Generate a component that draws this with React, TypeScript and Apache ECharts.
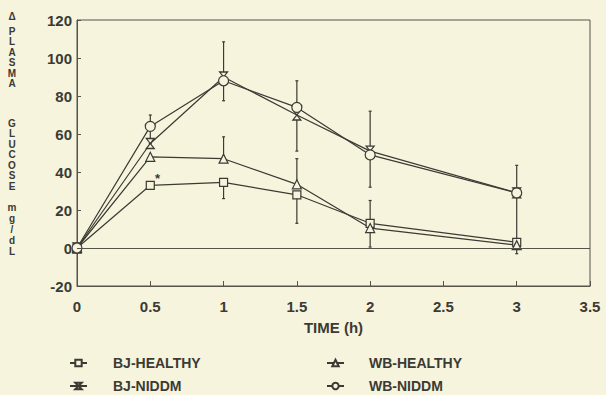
import React, { useEffect, useRef } from "react";
import * as echarts from "echarts";

const times = [0, 0.5, 1, 1.5, 2, 3];
const bjHealthy = [0, 33, 34.5, 28, 13, 3];
const bjNiddm = [0, 55, 90, 70, 51, 29];
const wbHealthy = [0, 48, 47, 33.5, 10.5, 1.5];
const wbNiddm = [0, 64, 88, 74, 49, 29];

// [time, low, high]
const errorBars = [
  [0.5, 55, 70],
  [0.5, 31, 33],
  [1, 77.5, 108.5],
  [1, 47, 58.5],
  [1, 26, 34.5],
  [1.5, 51, 88],
  [1.5, 33.5, 47],
  [1.5, 13, 28],
  [2, 32, 72],
  [2, 0.5, 25],
  [3, -3, 43.5],
];

const xTicks = { min: 0, max: 3.5, interval: 0.5 };
const yTicks = { min: -20, max: 120, interval: 20 };

const yTitleChars = ["Δ", "P", "L", "A", "S", "M", "A", "G", "L", "U", "C", "O", "S", "E", "m", "g", "/", "d", "L"];
const yTitleRows = [16, 31, 41.5, 52, 62.5, 73, 83.5, 123, 133.5, 144, 154.5, 165, 175.5, 186, 207, 218, 229, 240, 251];

const INK = "#3b3a34";
const PAPER = "#f6f4dc";
const HOURGLASS = "path://M0,0 L10,0 L0,12 L10,12 Z";

const pair = (arr: number[]) => times.map((t, i) => [t, arr[i]]);

export default function App() {
  const ref = useRef<HTMLDivElement>(null);
  useEffect(() => {
    if (!ref.current) return;
    const chart = echarts.init(ref.current, null, { renderer: "svg" });
    const lineBase = (name: string, data: number[], symbol: string, size: any) => ({
      name,
      type: "line",
      data: pair(data),
      symbol,
      symbolSize: size,
      showAllSymbol: true,
      lineStyle: { color: INK, width: 1.2 },
      itemStyle: { color: PAPER, borderColor: INK, borderWidth: 1.2 },
      z: 3,
    });
    const legendItem = (name: string, left: number, top: number, pad: number) => ({
      left,
      top,
      itemWidth: 17,
      itemHeight: 8,
      data: [name],
      textStyle: { color: INK, fontSize: 14, fontWeight: "bold", padding: [0, 0, 0, pad] },
    });
    chart.setOption({
      animation: false,
      backgroundColor: PAPER,
      textStyle: { fontFamily: "Liberation Sans, Arial, sans-serif" },
      grid: {
        left: 77,
        top: 20,
        width: 513,
        height: 266,
        show: true,
        borderColor: "#55534a",
        borderWidth: 1,
        backgroundColor: "transparent",
      },
      xAxis: {
        type: "value",
        ...xTicks,
        name: "TIME (h)",
        nameLocation: "middle",
        nameGap: 34,
        nameTextStyle: { color: INK, fontSize: 15, fontWeight: "bold" },
        axisLine: { show: true, onZero: false, lineStyle: { color: "#55534a" } },
        axisTick: { show: true, inside: true, length: 5, lineStyle: { color: "#55534a" } },
        axisLabel: {
          color: INK,
          fontSize: 15,
          fontWeight: "bold",
          margin: 13,
          formatter: (v: number) => String(v),
        },
        splitLine: { show: false },
      },
      yAxis: {
        type: "value",
        ...yTicks,
        axisLine: { show: true, onZero: false, lineStyle: { color: "#55534a" } },
        axisTick: { show: true, inside: true, length: 4, lineStyle: { color: "#55534a" } },
        axisLabel: { color: INK, fontSize: 15, fontWeight: "bold", margin: 5 },
        splitLine: { show: false },
      },
      legend: [
        legendItem("BJ-HEALTHY", 64, 351, 21),
        legendItem("BJ-NIDDM", 64, 374, 21),
        legendItem("WB-HEALTHY", 321, 351, 20),
        legendItem("WB-NIDDM", 321, 374, 20),
      ],
      graphic: [
        ...yTitleChars.map((ch, i) => ({
          type: "text",
          x: 12,
          y: yTitleRows[i],
          style: {
            text: ch,
            fill: INK,
            font: "bold 10px Liberation Sans, Arial, sans-serif",
            lineHeight: 9,
            align: "center",
            verticalAlign: "middle",
          },
        })),
        {
          type: "text",
          left: 155,
          top: 172,
          style: { text: "*", fill: INK, font: "bold 13px Liberation Sans, Arial, sans-serif" },
        },
      ],
      series: [
        {
          ...lineBase("BJ-HEALTHY", bjHealthy, "rect", 8),
          markLine: {
            silent: true,
            symbol: "none",
            label: { show: false },
            lineStyle: { color: "#55534a", width: 1, type: "solid" },
            data: [{ yAxis: 0 }],
          },
        },
        lineBase("BJ-NIDDM", bjNiddm, HOURGLASS, [8, 10]),
        lineBase("WB-HEALTHY", wbHealthy, "triangle", 9),
        lineBase("WB-NIDDM", wbNiddm, "circle", 10),
        {
          type: "custom",
          name: "err",
          data: errorBars,
          z: 2,
          silent: true,
          renderItem: (params: any, api: any) => {
            const x = api.value(0);
            const lo = api.coord([x, api.value(1)]);
            const hi = api.coord([x, api.value(2)]);
            const cap = 1.5;
            const style = { stroke: INK, lineWidth: 1.2 };
            return {
              type: "group",
              children: [
                { type: "line", shape: { x1: lo[0], y1: lo[1], x2: hi[0], y2: hi[1] }, style },
                { type: "line", shape: { x1: lo[0] - cap, y1: lo[1], x2: lo[0] + cap, y2: lo[1] }, style },
                { type: "line", shape: { x1: hi[0] - cap, y1: hi[1], x2: hi[0] + cap, y2: hi[1] }, style },
              ],
            };
          },
        },
      ],
    });
    return () => chart.dispose();
  }, []);
  return <div ref={ref} style={{ width: 606, height: 395, position: "absolute", left: 0, top: 0 }} />;
}
